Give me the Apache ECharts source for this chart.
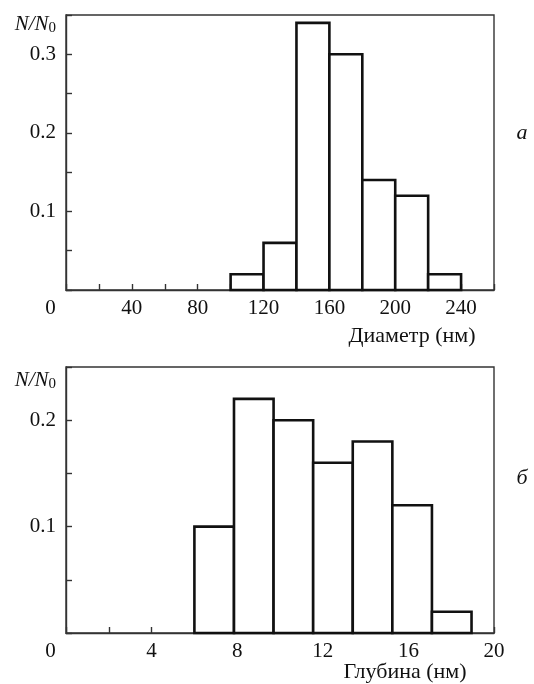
<!DOCTYPE html>
<html>
<head>
<meta charset="utf-8">
<script src="https://cdn.jsdelivr.net/npm/echarts@6/dist/echarts.min.js"></script>
<style>
  html, body { margin: 0; padding: 0; background: #fff; }
  #main { width: 534px; height: 684px; }
</style>
</head>
<body>
<div id="main"></div>
<script>
// данные гистограмм: границы бинов и доли N/N0
var diameterEdges = [100, 120, 140, 160, 180, 200, 220, 240];
var diameterFreq = [0.02, 0.06, 0.34, 0.30, 0.14, 0.12, 0.02];
var depthEdges = [6.0, 7.85, 9.7, 11.55, 13.4, 15.25, 17.1, 18.95];
var depthFreq = [0.10, 0.22, 0.20, 0.16, 0.18, 0.12, 0.02];

var diameterRange = [0, 260];
var depthRange = [0, 20];

var serif = '"Liberation Serif", "DejaVu Serif", serif';
var frameColor = '#333';

function toBins(edges, freq) {
    return freq.map(function (v, i) {
        return [edges[i], edges[i + 1], v];
    });
}

function renderHist(params, api) {
    var p0 = api.coord([api.value(0), api.value(2)]);
    var p1 = api.coord([api.value(1), 0]);
    return {
        type: 'rect',
        shape: { x: p0[0], y: p0[1], width: p1[0] - p0[0], height: p1[1] - p0[1] },
        style: { fill: '#fff', stroke: '#111', lineWidth: 2.6 }
    };
}

// подпись "0" в начале координат смещена влево
function xLabel(step) {
    return function (v) {
        if (v === 0) return '{o|0}';
        return (Math.round(v) % step === 0) ? String(v) : '';
    };
}

function yLabel(v) {
    var k = Math.round(v * 100);
    return (k > 0 && k % 10 === 0) ? (k / 100).toFixed(1) : '';
}

var labelStyle = {
    color: '#111',
    fontFamily: serif,
    fontSize: 21
};

function xAxisCfg(idx, range, interval, step) {
    return {
        type: 'value',
        gridIndex: idx,
        min: range[0],
        max: range[1],
        interval: interval,
        splitLine: { show: false },
        axisLine: { show: true, lineStyle: { color: frameColor, width: 1.4 } },
        axisTick: { show: true, inside: true, length: 6, lineStyle: { color: frameColor, width: 1.4 } },
        axisLabel: Object.assign({
            margin: 8,
            showMaxLabel: true,
            formatter: xLabel(step),
            rich: { o: { fontFamily: serif, fontSize: 21, color: '#111', padding: [0, 31, 0, 0] } }
        }, labelStyle)
    };
}

function yAxisCfg(idx, max) {
    return {
        type: 'value',
        gridIndex: idx,
        min: 0,
        max: max,
        interval: 0.05,
        splitLine: { show: false },
        axisLine: { show: true, lineStyle: { color: frameColor, width: 1.4 } },
        axisTick: { show: true, inside: true, length: 6, lineStyle: { color: frameColor, width: 1.4 } },
        axisLabel: Object.assign({ margin: 10, formatter: yLabel }, labelStyle)
    };
}

function nLabel(y) {
    return {
        type: 'text',
        style: {
            x: 56, y: y,
            align: 'right',
            verticalAlign: 'middle',
            text: '{i|N/N}{s|0}',
            rich: {
                i: { fontFamily: serif, fontStyle: 'italic', fontSize: 21, fill: '#111', color: '#111' },
                s: { fontFamily: serif, fontSize: 15, fill: '#111', color: '#111', padding: [9, 0, 0, 0] }
            }
        }
    };
}

function plainText(x, y, text, italic) {
    return {
        type: 'text',
        style: {
            x: x, y: y,
            align: 'center',
            verticalAlign: 'middle',
            text: text,
            font: (italic ? 'italic ' : '') + '22px ' + serif,
            fill: '#111'
        }
    };
}

var chart = echarts.init(document.getElementById('main'));
var option = {
    backgroundColor: '#fff',
    animation: false,
    grid: [
        { left: 66, top: 15, width: 428, height: 275, show: true, borderColor: frameColor, borderWidth: 1.4 },
        { left: 66, top: 367, width: 428, height: 266, show: true, borderColor: frameColor, borderWidth: 1.4 }
    ],
    xAxis: [
        xAxisCfg(0, diameterRange, 20, 40),
        xAxisCfg(1, depthRange, 2, 4)
    ],
    yAxis: [
        yAxisCfg(0, 0.35),
        yAxisCfg(1, 0.25)
    ],
    series: [
        {
            type: 'custom',
            xAxisIndex: 0,
            yAxisIndex: 0,
            renderItem: renderHist,
            encode: { x: [0, 1], y: 2 },
            data: toBins(diameterEdges, diameterFreq)
        },
        {
            type: 'custom',
            xAxisIndex: 1,
            yAxisIndex: 1,
            renderItem: renderHist,
            encode: { x: [0, 1], y: 2 },
            data: toBins(depthEdges, depthFreq)
        }
    ],
    graphic: [
        nLabel(24),
        nLabel(380),
        plainText(412, 336, 'Диаметр (нм)', false),
        plainText(405, 672, 'Глубина (нм)', false),
        plainText(522, 133, 'а', true),
        plainText(522, 478, 'б', true)
    ]
};
chart.setOption(option);
</script>
</body>
</html>
